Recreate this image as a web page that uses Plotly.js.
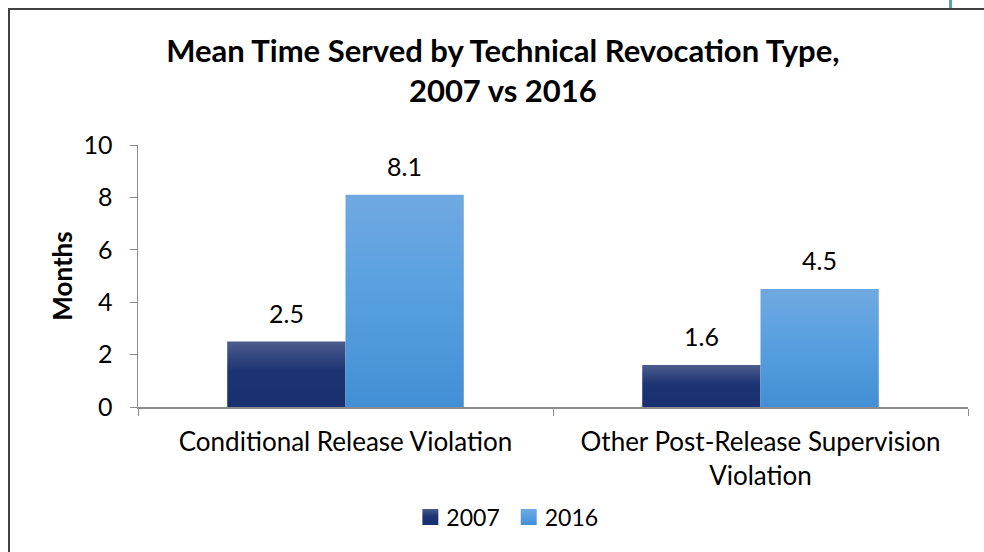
<!DOCTYPE html>
<html>
<head>
<meta charset="utf-8">
<script src="https://cdn.plot.ly/plotly-3.0.1.min.js"></script>
<style>
html,body{margin:0;padding:0;background:#fff;}
#wrap{position:relative;width:984px;height:552px;overflow:hidden;}
#chart{width:984px;height:552px;}
#frameL{position:absolute;left:8px;top:8px;width:2px;height:560px;background:#404040;}
#frameT{position:absolute;left:8px;top:8px;width:990px;height:2px;background:#404040;}
#mark{position:absolute;left:949px;top:0px;width:3px;height:8px;background:#5aa6a6;}
</style>
</head>
<body>
<div id="wrap">
<div id="chart"></div>
<div id="frameL"></div>
<div id="frameT"></div>
<div id="mark"></div>
</div>
<script>
var categories = ["Conditional Release Violation", "Other Post-Release Supervision<br>Violation"];
var series2007 = [2.5, 1.6];
var series2016 = [8.1, 4.5];
var seriesNames = ["2007", "2016"];
var yTicks = [0, 2, 4, 6, 8, 10];

var FONT = "Lato, 'Open Sans', sans-serif";
var BARGAP = 0.43;
var seriesColors = ["#22387a", "#4f98dc"];
var gradStops = [["#4c5c8c", "#1c3474", "#18306f"], ["#70a9e1", "#58a0e0", "#438fd5"]];

var traces = [
  {type:"bar", name:seriesNames[0], x:categories, y:series2007, marker:{color:seriesColors[0]}},
  {type:"bar", name:seriesNames[1], x:categories, y:series2016, marker:{color:seriesColors[1]}}
];

// value labels above bars, positioned via data coordinates of the grouped bars
var annotations = [];
var half = (1 - BARGAP) / 4;
[series2007, series2016].forEach(function(vals, s){
  vals.forEach(function(v, i){
    annotations.push({x: i + (s === 0 ? -half : half), y: v, xref:"x", yref:"y",
      text: v.toFixed(1), showarrow:false, yanchor:"bottom", yshift:12,
      font:{size:25, family:FONT, color:"#000"}});
  });
});

var layout = {
  width:984, height:552,
  margin:{l:138, r:16, t:145, b:145},
  paper_bgcolor:"#fff", plot_bgcolor:"#fff",
  font:{family:FONT, color:"#000"},
  title:{text:"<b>Mean Time Served by Technical Revocation Type,<br>2007 vs 2016</b>",
         x:0.511, xref:"container", xanchor:"center", y:0.888, yref:"container", yanchor:"middle",
         font:{size:31, family:FONT, color:"#000"}},
  barmode:"group", bargap:BARGAP, bargroupgap:0,
  showlegend:true,
  legend:{orientation:"h", x:0.442, xanchor:"center", y:-0.42, yanchor:"middle",
          font:{size:23, family:FONT}, traceorder:"normal"},
  annotations: annotations,
  xaxis:{type:"category", showline:true, linecolor:"#8c8c8c", linewidth:1.5,
         ticks:"outside", tickson:"boundaries", ticklen:7, tickcolor:"#8c8c8c",
         tickfont:{size:26, family:FONT}, ticklabelstandoff:11, automargin:false, fixedrange:true},
  yaxis:{range:[0,10], tickvals:yTicks, showline:true, linecolor:"#8c8c8c", linewidth:1.5,
         ticks:"outside", ticklen:7, tickcolor:"#8c8c8c", showgrid:false, zeroline:false,
         tickfont:{size:25, family:FONT}, ticklabelstandoff:12, automargin:false,
         title:{text:"<b>Months</b>", font:{size:26, family:FONT}, standoff:3}}
};

Plotly.newPlot("chart", traces, layout, {displayModeBar:false, staticPlot:true}).then(function(gd){
  var svg = gd.querySelector("svg.main-svg");
  var ns = "http://www.w3.org/2000/svg";
  var defs = svg.querySelector("defs") || svg.insertBefore(document.createElementNS(ns, "defs"), svg.firstChild);
  gradStops.forEach(function(stops, s){
    var g = document.createElementNS(ns, "linearGradient");
    g.setAttribute("id", "barGrad" + s);
    g.setAttribute("x1", "0"); g.setAttribute("y1", "0");
    g.setAttribute("x2", "0"); g.setAttribute("y2", "1");
    var offs = ["0", "0.45", "1"];
    stops.forEach(function(c, k){
      var st = document.createElementNS(ns, "stop");
      st.setAttribute("offset", offs[k]);
      st.setAttribute("stop-color", c);
      g.appendChild(st);
    });
    defs.appendChild(g);
  });
  var barTraces = gd.querySelectorAll(".barlayer .trace");
  barTraces.forEach(function(t, s){
    t.querySelectorAll(".point path").forEach(function(p){
      p.style.fill = "url(#barGrad" + s + ")";
    });
  });
  var legItems = gd.querySelectorAll(".legend .traces");
  legItems.forEach(function(t, s){
    t.querySelectorAll(".legendpoints path").forEach(function(p){
      p.style.fill = "url(#barGrad" + s + ")";
      var tr = p.getAttribute("transform") || "";
      p.setAttribute("transform", "translate(4,0) " + tr + " scale(1.33)");
    });
  });
});
</script>
</body>
</html>
